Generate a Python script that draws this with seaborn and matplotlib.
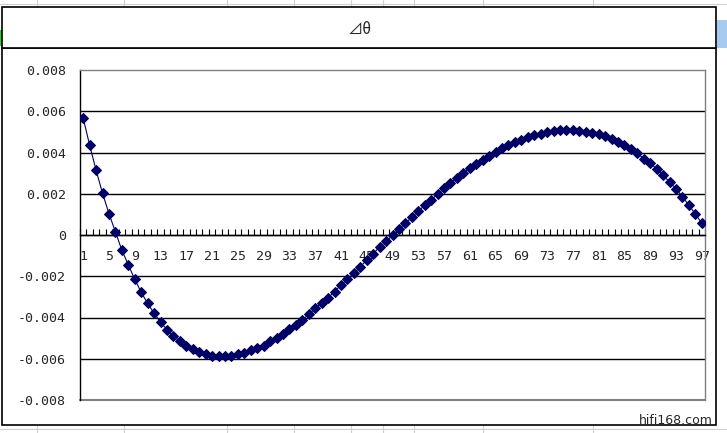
import numpy as np
import matplotlib
matplotlib.use('Agg')
import matplotlib.pyplot as plt
from matplotlib.patches import Rectangle
from matplotlib.lines import Line2D
import seaborn as sns
import pandas as pd

sns.set_style('white')
plt.rcParams['font.family'] = ['DejaVu Sans Mono', 'DejaVu Sans']
plt.rcParams['axes.unicode_minus'] = False

# data
points = list(range(1, 98))
d_theta = [
    0.00566, 0.00435, 0.00314, 0.00202, 0.00103, 0.00015, -0.00074, -0.00145,
    -0.00215, -0.00278, -0.00331, -0.00380, -0.00422, -0.00459, -0.00491, -0.00515,
    -0.00540, -0.00554, -0.00569, -0.00578, -0.00587, -0.00588, -0.00588, -0.00587,
    -0.00578, -0.00574, -0.00558, -0.00550, -0.00537, -0.00515, -0.00498, -0.00478,
    -0.00457, -0.00435, -0.00411, -0.00385, -0.00356, -0.00331, -0.00304, -0.00275,
    -0.00242, -0.00215, -0.00186, -0.00154, -0.00121, -0.00091, -0.00058, -0.00031,
    -0.00001, 0.00029, 0.00057, 0.00086, 0.00116, 0.00144, 0.00171, 0.00197,
    0.00226, 0.00252, 0.00276, 0.00301, 0.00323, 0.00344, 0.00364, 0.00383,
    0.00403, 0.00421, 0.00437, 0.00449, 0.00459, 0.00474, 0.00483, 0.00490,
    0.00498, 0.00503, 0.00508, 0.00508, 0.00508, 0.00504, 0.00499, 0.00496,
    0.00490, 0.00479, 0.00464, 0.00449, 0.00435, 0.00416, 0.00396, 0.00370,
    0.00348, 0.00320, 0.00289, 0.00257, 0.00224, 0.00186, 0.00144, 0.00102,
    0.00057,
]
y_ticks = [-0.008, -0.006, -0.004, -0.002, 0, 0.002, 0.004, 0.006, 0.008]
y_labels = ['-0.008', '-0.006', '-0.004', '-0.002', '0', '0.002', '0.004', '0.006', '0.008']
x_ticks = list(range(1, 98, 4))
title = '⊿θ'

df = pd.DataFrame({'point': points, 'dtheta': d_theta})

W, H = 727, 433
fig = plt.figure(figsize=(W / 100, H / 100), dpi=100)
fig.patch.set_facecolor('white')

# spreadsheet cell lines behind the chart
for xc in [37, 124, 227, 294, 351, 383, 414, 483, 593]:
    fig.add_artist(Line2D([xc / W, xc / W], [0, 1], color='#d0d0d0', lw=0.8, transform=fig.transFigure, zorder=0))
for yc in [4, 429]:
    fig.add_artist(Line2D([0, 1], [1 - yc / H, 1 - yc / H], color='#d0d0d0', lw=0.8, transform=fig.transFigure, zorder=0))
fig.add_artist(Rectangle((717 / W, 1 - 48 / H), 10 / W, 28 / H, transform=fig.transFigure,
                         facecolor='#a6caf0', edgecolor='none', zorder=0))
fig.add_artist(Rectangle((0, 1 - 46 / H), 2 / W, 16 / H, transform=fig.transFigure,
                         facecolor='#33cc33', edgecolor='none', zorder=0))

# chart frame and title box
fig.add_artist(Rectangle((2 / W, 1 - 425 / H), 714 / W, 377 / H, transform=fig.transFigure,
                         facecolor='white', edgecolor='black', lw=1.2, zorder=1))
fig.add_artist(Rectangle((2 / W, 1 - 48 / H), 714 / W, 41 / H, transform=fig.transFigure,
                         facecolor='white', edgecolor='black', lw=1.2, zorder=1))
fig.text(360 / W, 1 - 29 / H, title, ha='center', va='center', fontsize=11,
         family=['Noto Sans CJK SC', 'DejaVu Sans'], zorder=3)
fig.text(713 / W, 1 - 421 / H, 'hifi168.com', ha='right', va='center', fontsize=9,
         family=['DejaVu Sans'], zorder=3)

ax = fig.add_axes([80 / W, 1 - 400 / H, 625 / W, 330 / H], zorder=2)
ax.set_facecolor('white')

sns.lineplot(data=df, x='point', y='dtheta', ax=ax, color='#000066', linewidth=0.8,
             marker='D', markersize=4.8, markeredgecolor='#000066', zorder=4)

ax.set_xlim(0.5, 97.5)
ax.set_ylim(-0.008, 0.008)
ax.set_yticks(y_ticks)
ax.set_yticklabels(y_labels)
ax.set_xticks(x_ticks)
ax.set_xticklabels([str(t) for t in x_ticks])
ax.set_xticks(np.arange(0.5, 98, 1), minor=True)
ax.set_xlabel('')
ax.set_ylabel('')

for yv in y_ticks[1:-1]:
    ax.axhline(yv, color='black', lw=1.0, zorder=1)

ax.spines['bottom'].set_position(('data', 0))
ax.spines['bottom'].set_color('black')
ax.spines['left'].set_color('black')
ax.spines['top'].set_color('#808080')
ax.spines['right'].set_color('#808080')
for s in ax.spines.values():
    s.set_linewidth(1.0)
    s.set_visible(True)

# gray bottom edge of the plot area
ax.axhline(-0.008, color='#808080', lw=1.5, zorder=1, clip_on=False)

ax.tick_params(axis='x', which='major', length=0, pad=11, labelsize=9.5)
ax.tick_params(axis='x', which='minor', direction='in', length=4, width=0.8, color='black', bottom=True)
ax.tick_params(axis='y', length=0, pad=10, labelsize=9.5)

fig.savefig('out.png', dpi=100, facecolor='white')
